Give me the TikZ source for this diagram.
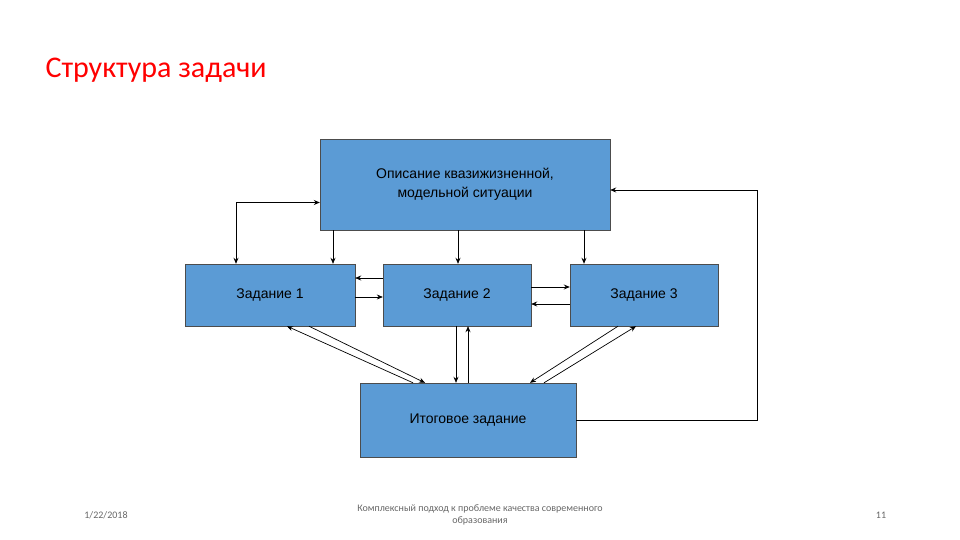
\documentclass[tikz,border=0pt]{standalone}
\usepackage{fontspec}
\setmainfont{Liberation Sans}
\newfontfamily\calib{Carlito}
\usetikzlibrary{arrows.meta,calc}
\begin{document}
\begin{tikzpicture}[x=1pt,y=-1pt,
 box/.style={draw=black!70,fill={rgb,255:red,91;green,155;blue,213},minimum width=#1,inner sep=0pt,align=center,font=\fontsize{14}{19}\selectfont},
 ar/.style={-{Stealth[length=6pt,width=5pt]},line width=0.7pt},
 dar/.style={{Stealth[length=6pt,width=5pt]}-{Stealth[length=6pt,width=5pt]},line width=1pt}]
\path[use as bounding box] (0,0) rectangle (960,540);
\node[anchor=west,text=red,font=\calib\fontsize{30}{34}\selectfont] (title) at (42,70) {Структура задачи};
\node[box=290pt,minimum height=91pt] (top) at (465,184.5) {Описание квазижизненной,\\модельной ситуации};
\node[box=170pt,minimum height=62pt] (z1) at (270,295) {Задание 1};
\node[box=148pt,minimum height=62pt] (z2) at (457,295) {Задание 2};
\node[box=148pt,minimum height=62pt] (z3) at (644,295) {Задание 3};
\node[box=216pt,minimum height=74pt] (fin) at (468,420) {Итоговое задание};
% top to tasks
\draw[dar] ([yshift=-18pt]top.west) -| ([xshift=-34pt]z1.north);
\draw[ar] ([xshift=-132pt]top.south) -- ([xshift=-132pt]top.south |- z1.north);
\draw[ar] ([xshift=-7pt]top.south) -- ([xshift=-7pt]top.south |- z2.north);
\draw[ar,line width=1pt] ([xshift=119pt]top.south) -- ([xshift=119pt]top.south |- z3.north);
% horizontal
\draw[ar] ([yshift=17pt]z2.west) -- ([yshift=17pt]z1.east);
\draw[ar] ([yshift=-2pt]z1.east) -- ([yshift=-2pt]z2.west);
\draw[ar,line width=1pt] ([yshift=8pt]z2.east) -- ([yshift=8pt]z3.west);
\draw[ar] ([yshift=-9pt]z3.west) -- ([yshift=-9pt]z2.east);
% vertical z2-fin
\draw[ar] ([xshift=-1pt]z2.south) -- ([xshift=-1pt]z2.south |- fin.north);
\draw[ar] ([xshift=11pt]z2.south |- fin.north) -- ([xshift=11pt]z2.south);
% diagonals z1
\draw[ar] ([xshift=-55pt]fin.north) -- ([xshift=17pt]z1.south);
\draw[ar] ([xshift=39pt]z1.south) -- ([xshift=-43pt]fin.north);
% diagonals z3
\draw[ar] ([xshift=-26pt]z3.south) -- ([xshift=62pt]fin.north);
\draw[ar] ([xshift=76pt]fin.north) -- ([xshift=-8pt]z3.south);
% feedback
\coordinate (fr) at (757,190);
\draw[ar] (fin.east) -| (fr) -- (fr -| top.east);
% footer
\node[text=black!60,font=\calib\fontsize{10}{12}\selectfont] (date) at (106,515) {1/22/2018};
\node[text=black!60,font=\calib\fontsize{10}{12}\selectfont,align=center] (foot) at (480,515) {Комплексный подход к проблеме качества современного\\образования};
\node[text=black!60,font=\calib\fontsize{10}{12}\selectfont] (num) at (881,515) {11};
\end{tikzpicture}
\end{document}
